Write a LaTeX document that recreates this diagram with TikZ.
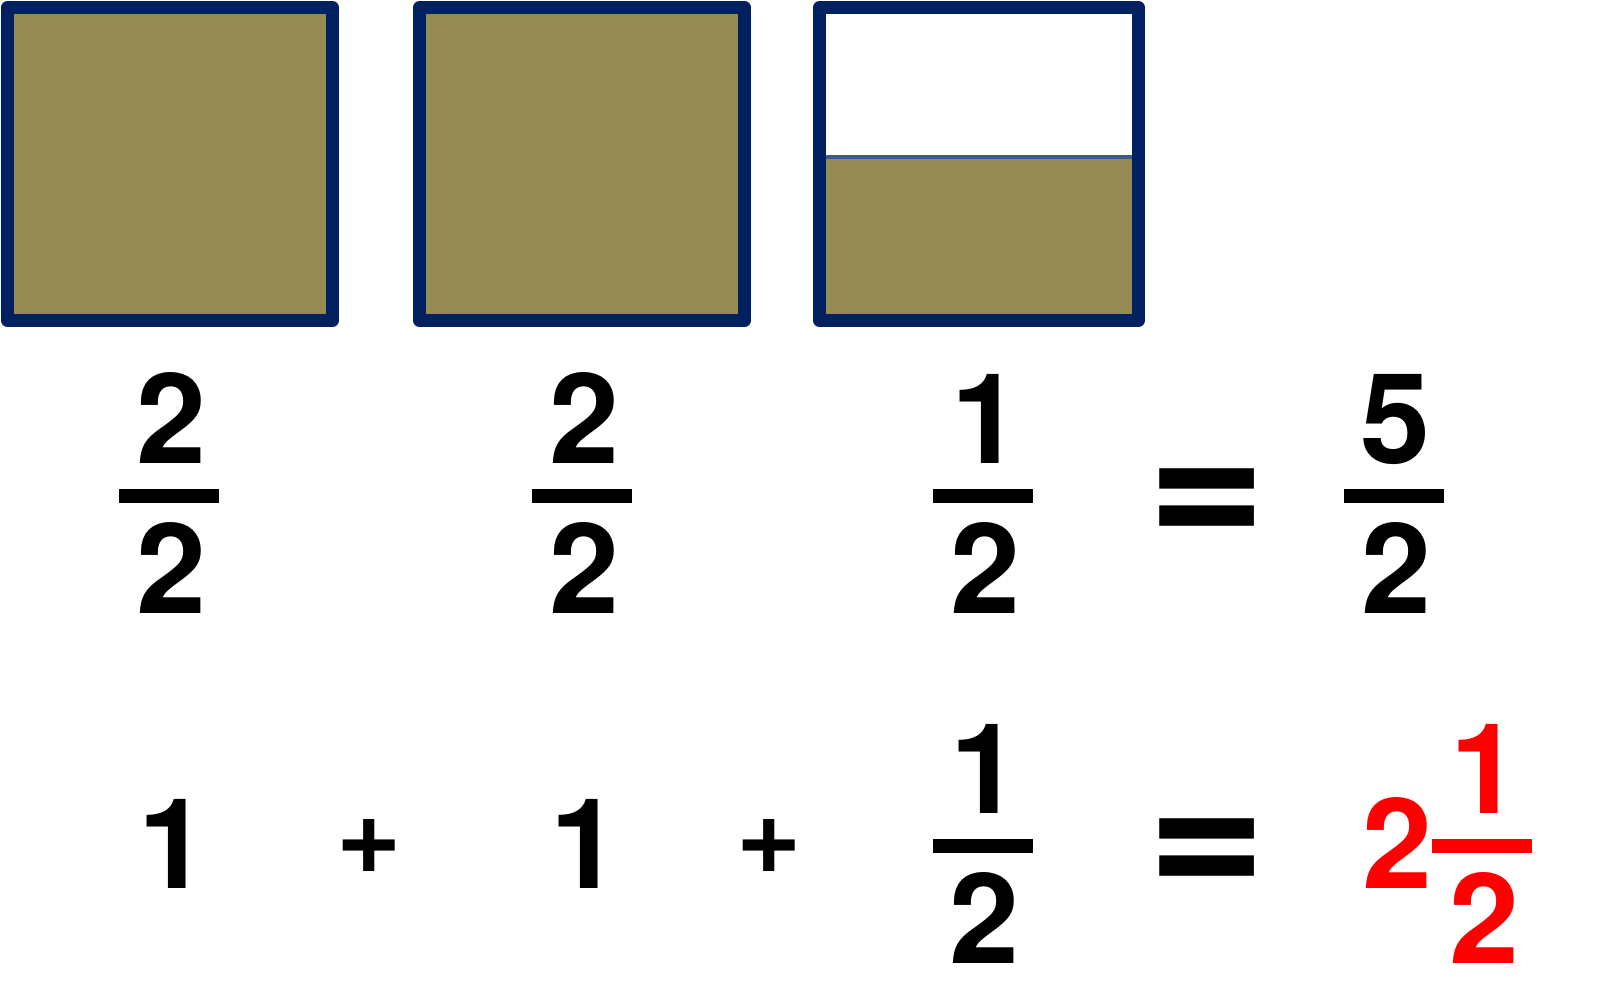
\documentclass[tikz,border=0pt]{standalone}
\usepackage{fontspec}
\setmainfont{TeX Gyre Heros}
\definecolor{boxfill}{HTML}{948B54}
\definecolor{boxline}{HTML}{002060}
\definecolor{splitline}{HTML}{385D8A}

\begin{document}
\begin{tikzpicture}[x=1pt, y=-1pt,
        num/.style = {inner sep=0pt, anchor=base, font=\fontsize{125.7}{126}\selectfont\bfseries},
        fracbar/.style = {fill, inner sep=0pt, minimum width=100pt, minimum height=13.5pt},
        op/.style = {inner sep=0pt, font=\fontsize{112}{112}\selectfont\bfseries},
        eq/.style = {inner sep=0pt, font=\fontsize{204}{204}\selectfont\bfseries},
        tile/.style = {draw=boxline, line width=13pt, line join=round}]
        \useasboundingbox (0,0) rectangle (1620,1001);

        % the three squares
        \foreach \x in {7.5, 419.5}
            \draw[tile, fill=boxfill] (\x,7.5) rectangle ++(325,313);
        \fill[boxfill] (819.5,157) rectangle (1138.5,320.5);
        \draw[splitline, line width=4pt] (819.5,157) -- (1138.5,157);
        \draw[tile] (819.5,7.5) rectangle (1138.5,320.5);

        % first row
        \node[num] (n1) at (171,463) {2};
        \node[fracbar] (b1) at (169,496) {};
        \node[num] (d1) at (171,613) {2};

        \node[num] (n2) at (584,463) {2};
        \node[fracbar] (b2) at (582,496) {};
        \node[num] (d2) at (584,613) {2};

        \node[num] (n3) at (986.5,463) {1};
        \node[fracbar] (b3) at (983,496) {};
        \node[num] (d3) at (985,613) {2};

        \node[eq] (e1) at (1207,509) {=};

        \node[num] (n4) at (1395,463) {5};
        \node[fracbar] (b4) at (1394,496) {};
        \node[num] (d4) at (1396,613) {2};

        % second row
        \node[num] (w1) at (173,888) {1};
        \node[op] (p1) at (369,846) {+};
        \node[num] (w2) at (585,888) {1};
        \node[op] (p2) at (769,846) {+};

        \node[num] (n5) at (985.5,813) {1};
        \node[fracbar] (b5) at (982.5,846) {};
        \node[num] (d5) at (984,963) {2};

        \node[eq] (e2) at (1207,859) {=};

        \node[num, text=red] (w3) at (1397,888) {2};
        \node[num, text=red] (n6) at (1485,813) {1};
        \node[fracbar, fill=red] (b6) at (1482,846) {};
        \node[num, text=red] (d6) at (1484,963) {2};
\end{tikzpicture}
\end{document}
